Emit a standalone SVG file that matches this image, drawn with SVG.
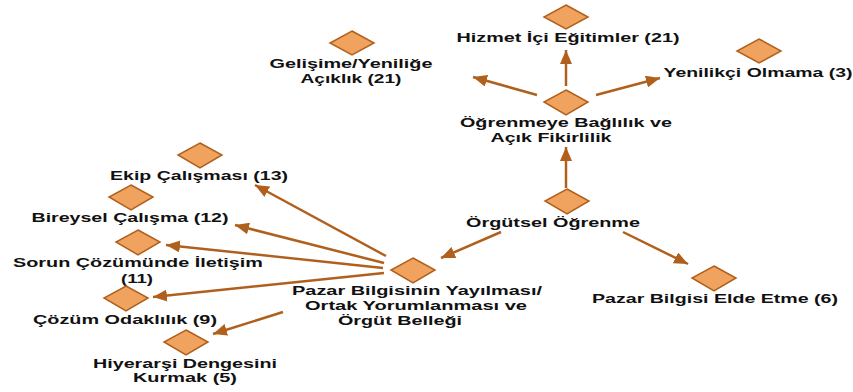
<svg xmlns="http://www.w3.org/2000/svg" width="853" height="392" viewBox="0 0 853 392">
<style>
.d{fill:#F0A35E;stroke:#B0601C;stroke-width:1.5}
.t{font-family:"Liberation Sans",Arial,sans-serif;font-weight:bold;font-size:13px;fill:#111;text-anchor:middle}
.c{stroke:#B0601C;stroke-width:2.5;fill:none;marker-end:url(#a)}
</style>
<defs>
<marker id="a" markerUnits="userSpaceOnUse" markerWidth="14" markerHeight="12" refX="14" refY="6" orient="auto">
<path d="M0,0 L14,6 L0,12 Z" fill="#B0601C"/>
</marker>
</defs>
<rect width="853" height="392" fill="#fff"/>
<g id="connectors">
<line class="c" x1="566" y1="188" x2="566" y2="147"/>
<line class="c" x1="501" y1="232" x2="441" y2="258"/>
<line class="c" x1="623" y1="232" x2="688" y2="264"/>
<line class="c" x1="566" y1="86" x2="566" y2="50"/>
<line class="c" x1="596" y1="95" x2="660" y2="78"/>
<line class="c" x1="537" y1="95" x2="473" y2="77"/>
<line class="c" x1="386" y1="256" x2="255" y2="185"/>
<line class="c" x1="384" y1="263" x2="235" y2="225"/>
<line class="c" x1="383" y1="268" x2="166" y2="245"/>
<line class="c" x1="384" y1="273" x2="153" y2="297"/>
<line class="c" x1="283" y1="312" x2="213" y2="334"/>
</g>
<g id="n-hizmet">
<polygon class="d" points="566,5 588,17 566,29 544,17"/>
<text class="t" x="568" y="42" textLength="223" lengthAdjust="spacingAndGlyphs">Hizmet İçi Eğitimler (21)</text>
</g>
<g id="n-gelisime">
<polygon class="d" points="352,31 374,43 352,55 330,43"/>
<text class="t" x="351" y="68" textLength="163" lengthAdjust="spacingAndGlyphs">Gelişime/Yeniliğe</text>
<text class="t" x="351" y="83" textLength="101" lengthAdjust="spacingAndGlyphs">Açıklık (21)</text>
</g>
<g id="n-yenilikci">
<polygon class="d" points="759,39 781,51 759,63 737,51"/>
<text class="t" x="758" y="77" textLength="189" lengthAdjust="spacingAndGlyphs">Yenilikçi Olmama (3)</text>
</g>
<g id="n-ogrenmeye">
<polygon class="d" points="566,90 588,102 566,115 544,102"/>
<text class="t" x="566" y="127" textLength="212" lengthAdjust="spacingAndGlyphs">Öğrenmeye Bağlılık ve</text>
<text class="t" x="551" y="142" textLength="121" lengthAdjust="spacingAndGlyphs">Açık Fikirlilik</text>
</g>
<g id="n-orgutsel">
<polygon class="d" points="567,189 589,201 567,214 545,201"/>
<text class="t" x="553" y="227" textLength="174" lengthAdjust="spacingAndGlyphs">Örgütsel Öğrenme</text>
</g>
<g id="n-pazar-yayilma">
<polygon class="d" points="413,258 435,270 413,283 391,270"/>
<text class="t" x="417" y="295" textLength="250" lengthAdjust="spacingAndGlyphs">Pazar Bilgisinin Yayılması/</text>
<text class="t" x="416" y="310" textLength="222" lengthAdjust="spacingAndGlyphs">Ortak Yorumlanması ve</text>
<text class="t" x="400" y="325" textLength="124" lengthAdjust="spacingAndGlyphs">Örgüt Belleği</text>
</g>
<g id="n-pazar-elde">
<polygon class="d" points="714,266 736,278 714,291 692,278"/>
<text class="t" x="715" y="303" textLength="246" lengthAdjust="spacingAndGlyphs">Pazar Bilgisi Elde Etme (6)</text>
</g>
<g id="n-ekip">
<polygon class="d" points="200,143 222,155 200,168 178,155"/>
<text class="t" x="199" y="180" textLength="178" lengthAdjust="spacingAndGlyphs">Ekip Çalışması (13)</text>
</g>
<g id="n-bireysel">
<polygon class="d" points="131,185 153,197 131,210 109,197"/>
<text class="t" x="130" y="222" textLength="197" lengthAdjust="spacingAndGlyphs">Bireysel Çalışma (12)</text>
</g>
<g id="n-sorun">
<polygon class="d" points="138,230 160,242 138,255 116,242"/>
<text class="t" x="138" y="267" textLength="250" lengthAdjust="spacingAndGlyphs">Sorun Çözümünde İletişim</text>
<text class="t" x="137" y="283" textLength="32" lengthAdjust="spacingAndGlyphs">(11)</text>
</g>
<g id="n-cozum">
<polygon class="d" points="126,286 148,298 126,311 104,298"/>
<text class="t" x="125" y="324" textLength="184" lengthAdjust="spacingAndGlyphs">Çözüm Odaklılık (9)</text>
</g>
<g id="n-hiyerarsi">
<polygon class="d" points="186,330 208,342 186,355 164,342"/>
<text class="t" x="185" y="368" textLength="184" lengthAdjust="spacingAndGlyphs">Hiyerarşi Dengesini</text>
<text class="t" x="185" y="382" textLength="104" lengthAdjust="spacingAndGlyphs">Kurmak (5)</text>
</g>
</svg>
